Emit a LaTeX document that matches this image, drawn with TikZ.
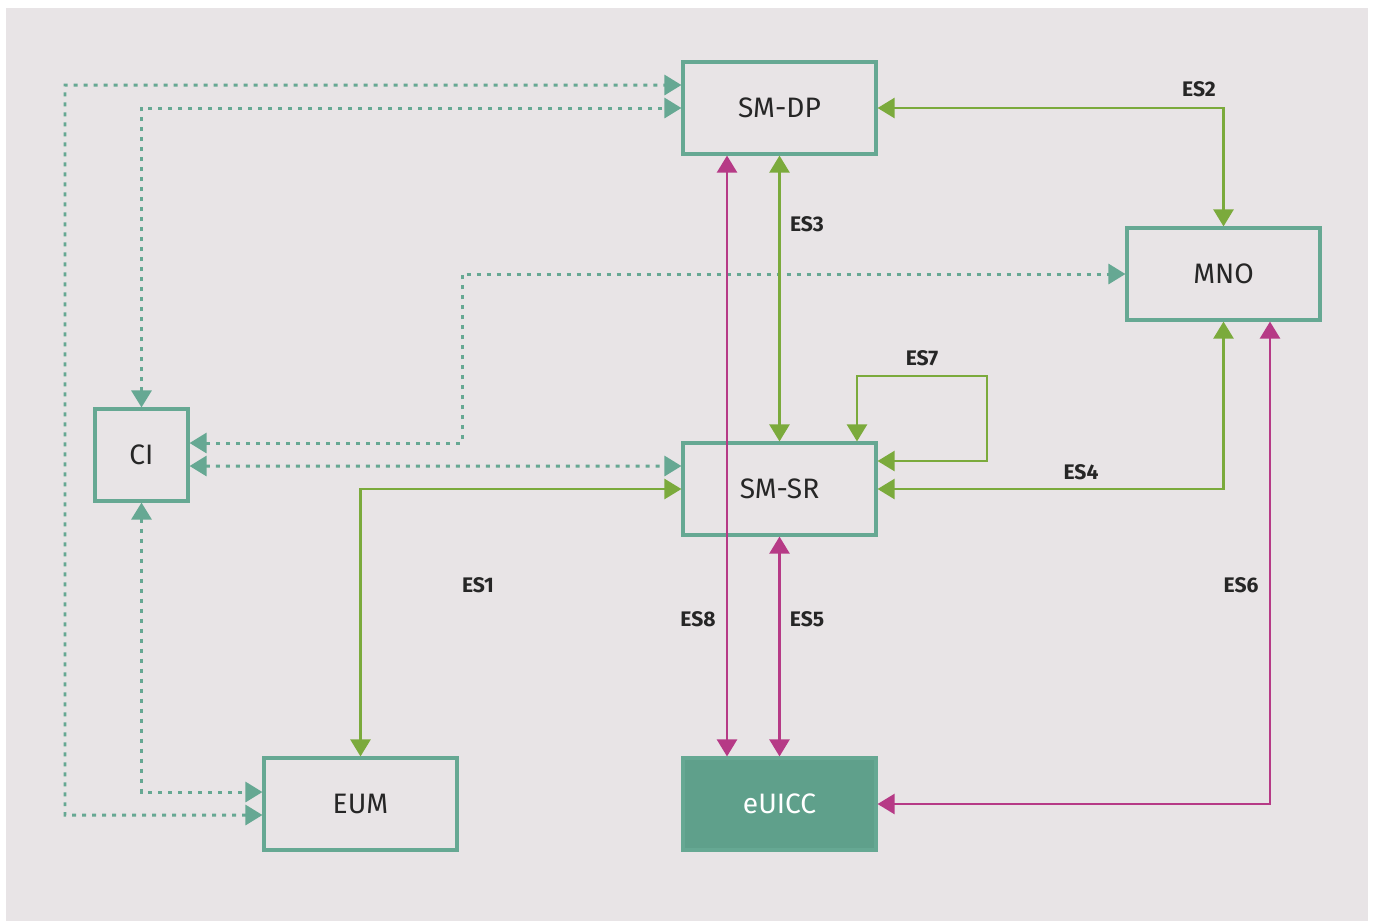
\documentclass[tikz,border=0pt]{standalone}
\usepackage{fontspec}
\setmainfont{Fira Sans}
\usepackage{tikz}
\usetikzlibrary{arrows.meta,positioning,calc}
\definecolor{paneltone}{HTML}{E8E4E6}
\definecolor{boxteal}{HTML}{66A893}
\definecolor{chipteal}{HTML}{5FA08B}
\definecolor{linkgreen}{HTML}{7BAA3C}
\definecolor{linkmagenta}{HTML}{B63A86}

\begin{document}
\begin{tikzpicture}[x=0.02cm,y=-0.02cm,
    entity/.style={draw=boxteal,line width=1.8pt,minimum width=3.86cm,minimum height=1.84cm,
      inner sep=0pt,font=\fontsize{16}{18}\selectfont,text=black!85},
    twoway/.style={line width=1.4pt,{Triangle[length=0.34cm,width=0.4cm]}-{Triangle[length=0.34cm,width=0.4cm]}},
    trust/.style={twoway,boxteal,line width=1.7pt,dash pattern=on 0.08cm off 0.12cm},
    es/.style={font=\bfseries\fontsize{12}{14}\selectfont,text=black!85}]
        \useasboundingbox (0,0) rectangle (1375,921);
        \fill[paneltone] (6,8) rectangle (1368,921);
        % boxes
        \node[entity] (smdp) at (779.5,108) {SM-DP};
        \node[entity] (mno) at (1223.5,274) {MNO};
        \node[entity,minimum width=1.86cm] (ci) at (141.5,455) {CI};
        \node[entity] (smsr) at (779.5,489) {SM-SR};
        \node[entity] (eum) at (360.5,804) {EUM};
        \node[entity,fill=chipteal,text=white] (euicc) at (779.5,804) {eUICC};
        % CI trust links
        \coordinate (outer) at (65,85);
        \coordinate (bend) at (462,274);
        \draw[trust] ([yshift=-0.22cm]eum.west) -| (outer) -- ([yshift=0.46cm]smdp.west);
        \draw[trust] (ci.north) |- (smdp.west);
        \draw[trust] (ci.south) |- ([yshift=0.24cm]eum.west);
        \draw[trust] ([yshift=0.24cm]ci.east) -| (bend) -- (mno.west);
        \draw[trust] ([yshift=-0.22cm]ci.east) -- ([yshift=0.46cm]smsr.west);
        % ES interfaces
        \coordinate (loop) at (987,376);
        \draw[twoway,linkgreen] (smdp.east) -| (mno.north);
        \draw[twoway,linkgreen] (smdp.south) -- (smsr.north);
        \draw[twoway,linkgreen] ([yshift=0.56cm]smsr.east) -| (loop) -| ([xshift=1.55cm]smsr.north);
        \draw[twoway,linkgreen] (smsr.east) -| (mno.south);
        \draw[twoway,linkgreen] (smsr.west) -| (eum.north);
        \draw[twoway,linkmagenta] ([xshift=-1.05cm]smdp.south) -- ([xshift=-1.05cm]euicc.north);
        \draw[twoway,linkmagenta] (smsr.south) -- (euicc.north);
        \draw[twoway,linkmagenta] (euicc.east) -| ([xshift=0.93cm]mno.south);
        % labels
        \node[es] (es2) at (1199,89) {ES2};
        \node[es] (es3) at (807,224) {ES3};
        \node[es] (es7) at (922,358) {ES7};
        \node[es] (es4) at (1081,472) {ES4};
        \node[es] (es1) at (478,585) {ES1};
        \node[es] (es8) at (698,619) {ES8};
        \node[es] (es5) at (807,619) {ES5};
        \node[es] (es6) at (1241,585) {ES6};
      \end{tikzpicture}
\end{document}
